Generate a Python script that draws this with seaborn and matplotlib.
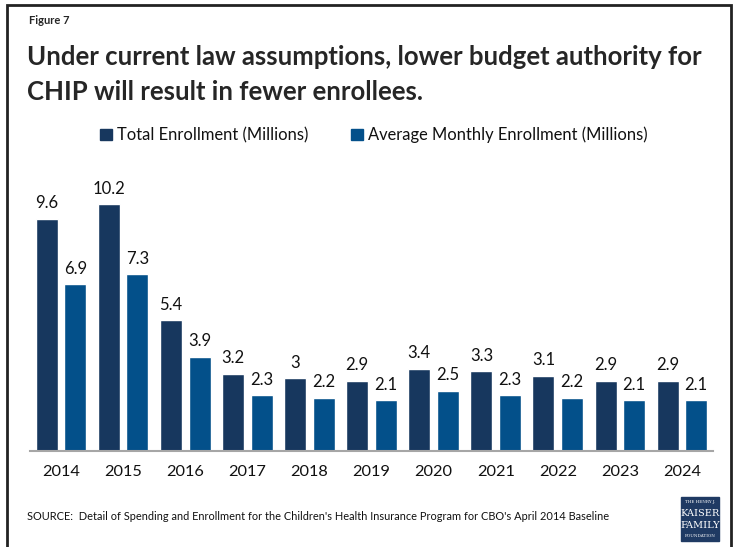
import matplotlib
matplotlib.use("Agg")
import matplotlib.pyplot as plt
import seaborn as sns
import pandas as pd
from matplotlib.patches import Rectangle

years = ["2014", "2015", "2016", "2017", "2018", "2019", "2020", "2021", "2022", "2023", "2024"]
total = [9.6, 10.2, 5.4, 3.2, 3.0, 2.9, 3.4, 3.3, 3.1, 2.9, 2.9]
monthly = [6.9, 7.3, 3.9, 2.3, 2.2, 2.1, 2.5, 2.3, 2.2, 2.1, 2.1]
total_labels = ["9.6", "10.2", "5.4", "3.2", "3", "2.9", "3.4", "3.3", "3.1", "2.9", "2.9"]
monthly_labels = ["6.9", "7.3", "3.9", "2.3", "2.2", "2.1", "2.5", "2.3", "2.2", "2.1", "2.1"]
series = ["Total Enrollment (Millions)", "Average Monthly Enrollment (Millions)"]
colors = ["#17375E", "#03508A"]

df = pd.DataFrame({
    "Year": years * 2,
    "Value": total + monthly,
    "Series": [series[0]] * len(years) + [series[1]] * len(years),
})

sns.set_theme(style="white")
plt.rcParams["font.family"] = ["Lato", "DejaVu Sans"]

W, H = 736, 547
fig = plt.figure(figsize=(W / 100, H / 100), dpi=100)
ax_left, ax_right = 30, 713
ax_bottom, ax_top = 451, 185
ax = fig.add_axes([ax_left / W, 1 - ax_bottom / H, (ax_right - ax_left) / W, (ax_bottom - ax_top) / H])

sns.barplot(data=df, x="Year", y="Value", hue="Series", palette=colors,
            width=0.92, gap=0.23, ax=ax, legend=False, saturation=1)

ax.set_xlim(-0.5, len(years) - 0.5)
ax.set_ylim(0, 11)
for c, labs in zip(ax.containers, [total_labels, monthly_labels]):
    ax.bar_label(c, labels=labs, padding=5.5, fontsize=12, color="#111111")

ax.set_xlabel("")
ax.set_ylabel("")
ax.set_yticks([])
ax.tick_params(axis="x", length=0, pad=10, labelsize=11.8, labelcolor="#111111")
for s in ["top", "right", "left"]:
    ax.spines[s].set_visible(False)
ax.spines["bottom"].set_color("#A6A6A6")
ax.spines["bottom"].set_linewidth(1.5)

# Legend
handles = [Rectangle((0, 0), 1, 1, color=c) for c in colors]
fig.legend(handles, series, loc="center", bbox_to_anchor=(374 / W, 1 - 135 / H), ncol=2,
           frameon=False, fontsize=11.9, handlelength=0.7, handleheight=0.7,
           handletextpad=0.3, columnspacing=2.6, labelcolor="#111111")

# Texts
fig.text(29 / W, 1 - 20 / H, "Figure 7", fontsize=8, fontweight="bold", va="center", ha="left")
fig.text(27 / W, 1 - 57 / H, "Under current law assumptions, lower budget authority for",
         fontsize=18.5, fontweight="bold", va="center", ha="left")
fig.text(27 / W, 1 - 92 / H, "CHIP will result in fewer enrollees.",
         fontsize=18.5, fontweight="bold", va="center", ha="left")
fig.text(27 / W, 1 - 517 / H,
         "SOURCE:  Detail of Spending and Enrollment for the Children's Health Insurance Program for CBO's April 2014 Baseline",
         fontsize=7.9, va="center", ha="left", color="#111111")

# Logo
lx0, ly0, lx1, ly1 = 681, 497, 719, 541
fig.add_artist(Rectangle((lx0 / W, 1 - ly1 / H), (lx1 - lx0) / W, (ly1 - ly0) / H,
                         transform=fig.transFigure, color="#1F3A63"))
cx = (lx0 + lx1) / 2 / W
fig.text(cx, 1 - 502 / H, "THE HENRY J.", fontsize=3, color="white", ha="center", va="center", family="DejaVu Serif")
fig.text(cx, 1 - 513 / H, "KAISER", fontsize=7, color="white", ha="center", va="center", family="DejaVu Serif")
fig.text(cx, 1 - 526 / H, "FAMILY", fontsize=7, color="white", ha="center", va="center", family="DejaVu Serif")
fig.text(cx, 1 - 536 / H, "FOUNDATION", fontsize=3, color="white", ha="center", va="center", family="DejaVu Serif")

# Border frame
fig.add_artist(Rectangle((7 / W, -0.05), (731 - 7) / W, 1 - 5 / H + 0.05,
                         transform=fig.transFigure, fill=False, edgecolor="#222222", linewidth=2))

fig.savefig("out.png", dpi=100)
